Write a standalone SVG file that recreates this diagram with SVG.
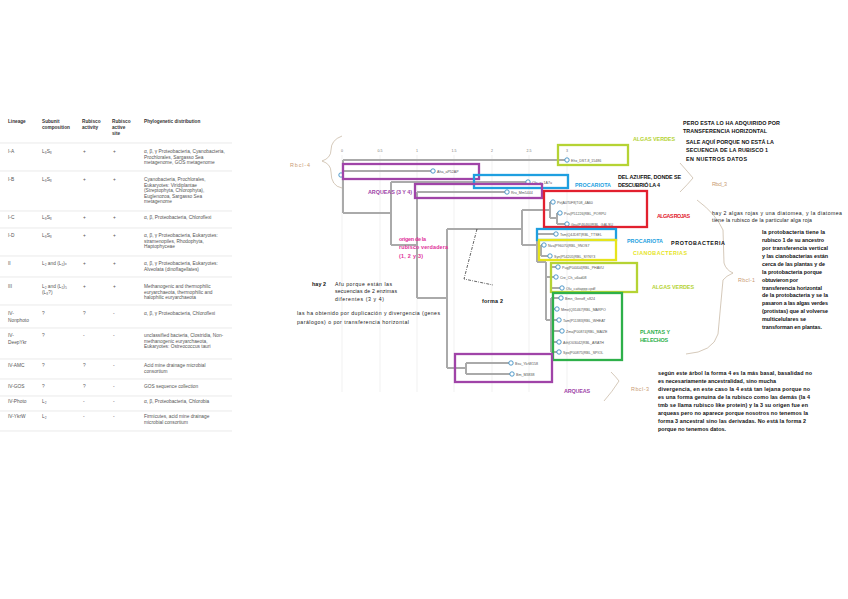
<svg xmlns="http://www.w3.org/2000/svg" width="848" height="599" viewBox="0 0 848 599">
<style>
.t{font-family:"Liberation Sans",Arial,sans-serif;font-size:4.8px;fill:#555}
.th{font-family:"Liberation Sans",Arial,sans-serif;font-size:4.7px;fill:#333;font-weight:bold}
.rl{stroke:#dcdcdc;stroke-width:0.6}
.grid{stroke:#eeeeee;stroke-width:0.8}
.ax{font-family:"Liberation Sans",Arial,sans-serif;font-size:3.6px;fill:#777}
.br{fill:none;stroke:#aaaaaa;stroke-width:2}
.leaf circle{fill:#fff;stroke:#3d8fc4;stroke-width:0.9}
.leaf text{font-family:"Liberation Sans",Arial,sans-serif;font-size:3.6px;fill:#555}
.box{fill:none;stroke-width:2.3}
.a{font-family:"Liberation Sans",Arial,sans-serif;font-size:5.4px;fill:#111;font-weight:bold}
.an{font-family:"Liberation Sans",Arial,sans-serif;font-size:5.2px;fill:#222}
.lab{font-family:"Liberation Sans",Arial,sans-serif;font-size:5.4px;font-weight:bold}
.rb{font-family:"Liberation Sans",Arial,sans-serif;font-size:5.4px;fill:#c99a72}
.brace{fill:none;stroke:#b8a48c;stroke-width:0.6}
</style>
<rect width="848" height="599" fill="#fff"/>

<!-- Table -->
<g id="table">
<text class="th" x="8" y="123">Lineage</text>
<text class="th" x="42" y="123">Subunit</text><text class="th" x="42" y="129">composition</text>
<text class="th" x="82" y="123">Rubisco</text><text class="th" x="82" y="129">activity</text>
<text class="th" x="112" y="123">Rubisco</text><text class="th" x="112" y="129">active</text><text class="th" x="112" y="135">site</text>
<text class="th" x="144" y="123">Phylogenetic distribution</text>
<line class="rl" x1="0" y1="143" x2="232" y2="143"/>

<text class="t" x="8" y="153">I-A</text><text class="t" x="42" y="153">L₈S₈</text><text class="t" x="83" y="153">+</text><text class="t" x="113" y="153">+</text>
<text class="t" x="144" y="153">α, β, γ Proteobacteria, Cyanobacteria,</text><text class="t" x="144" y="158.5">Prochlorales, Sargasso Sea</text><text class="t" x="144" y="164">metagenome, GOS metagenome</text>
<line class="rl" x1="0" y1="171" x2="232" y2="171"/>

<text class="t" x="8" y="181">I-B</text><text class="t" x="42" y="181">L₈S₈</text><text class="t" x="83" y="181">+</text><text class="t" x="113" y="181">+</text>
<text class="t" x="144" y="181">Cyanobacteria, Prochlorales,</text><text class="t" x="144" y="186.5">Eukaryotes: Viridiplantae</text><text class="t" x="144" y="192">(Streptophyta, Chlorophyta),</text><text class="t" x="144" y="197.5">Euglenozoa, Sargasso Sea</text><text class="t" x="144" y="203">metagenome</text>
<line class="rl" x1="0" y1="211" x2="232" y2="211"/>

<text class="t" x="8" y="219">I-C</text><text class="t" x="42" y="219">L₈S₈</text><text class="t" x="83" y="219">+</text><text class="t" x="113" y="219">+</text>
<text class="t" x="144" y="219">α, β, Proteobacteria, Chloroflexi</text>
<line class="rl" x1="0" y1="228" x2="232" y2="228"/>

<text class="t" x="8" y="237">I-D</text><text class="t" x="42" y="237">L₈S₈</text><text class="t" x="83" y="237">+</text><text class="t" x="113" y="237">+</text>
<text class="t" x="144" y="237">α, β, γ Proteobacteria, Eukaryotes:</text><text class="t" x="144" y="242.5">stramenopiles, Rhodophyta,</text><text class="t" x="144" y="248">Haptophyceae</text>
<line class="rl" x1="0" y1="256" x2="232" y2="256"/>

<text class="t" x="8" y="265">II</text><text class="t" x="42" y="265">L₂ and (L₂)ₓ</text><text class="t" x="83" y="265">+</text><text class="t" x="113" y="265">+</text>
<text class="t" x="144" y="265">α, β, γ Proteobacteria, Eukaryotes:</text><text class="t" x="144" y="270.5">Alveolata (dinoflagellates)</text>
<line class="rl" x1="0" y1="277" x2="232" y2="277"/>

<text class="t" x="8" y="288">III</text><text class="t" x="42" y="288">L₂ and (L₂)₅</text><text class="t" x="42" y="293.5">(L₈?)</text><text class="t" x="83" y="288">+</text><text class="t" x="113" y="288">+</text>
<text class="t" x="144" y="288">Methanogenic and thermophilic</text><text class="t" x="144" y="293.5">euryarchaeota, thermophilic and</text><text class="t" x="144" y="299">halophilic euryarchaeota</text>
<line class="rl" x1="0" y1="305" x2="232" y2="305"/>

<text class="t" x="8" y="315">IV-</text><text class="t" x="8" y="322">Nonphoto</text><text class="t" x="42" y="315">?</text><text class="t" x="83" y="315">?</text><text class="t" x="113" y="315">-</text>
<text class="t" x="144" y="315">α, β, γ Proteobacteria, Chloroflexi</text>
<line class="rl" x1="0" y1="328" x2="232" y2="328"/>

<text class="t" x="8" y="337">IV-</text><text class="t" x="8" y="344">DeepYkr</text><text class="t" x="42" y="337">?</text><text class="t" x="83" y="337">-</text><text class="t" x="113" y="337">-</text>
<text class="t" x="144" y="337">unclassified bacteria, Clostridia, Non-</text><text class="t" x="144" y="342.5">methanogenic euryarchaeota,</text><text class="t" x="144" y="348">Eukaryotes: Ostreococcus tauri</text>
<line class="rl" x1="0" y1="359" x2="232" y2="359"/>

<text class="t" x="8" y="367">IV-AMC</text><text class="t" x="42" y="367">?</text><text class="t" x="83" y="367">?</text><text class="t" x="113" y="367">-</text>
<text class="t" x="144" y="367">Acid mine drainage microbial</text><text class="t" x="144" y="372.5">consortium</text>
<line class="rl" x1="0" y1="379" x2="232" y2="379"/>

<text class="t" x="8" y="388">IV-GOS</text><text class="t" x="42" y="388">?</text><text class="t" x="83" y="388">?</text><text class="t" x="113" y="388">-</text>
<text class="t" x="144" y="388">GOS sequence collection</text>
<line class="rl" x1="0" y1="396" x2="232" y2="396"/>

<text class="t" x="8" y="403">IV-Photo</text><text class="t" x="42" y="403">L₂</text><text class="t" x="83" y="403">-</text><text class="t" x="113" y="403">-</text>
<text class="t" x="144" y="403">α, β, Proteobacteria, Chlorobia</text>
<line class="rl" x1="0" y1="411" x2="232" y2="411"/>

<text class="t" x="8" y="418">IV-YkrW</text><text class="t" x="42" y="418">L₂</text><text class="t" x="83" y="418">-</text><text class="t" x="113" y="418">-</text>
<text class="t" x="144" y="418">Firmicutes, acid mine drainage</text><text class="t" x="144" y="423.5">microbial consortium</text>
<line class="rl" x1="0" y1="431" x2="232" y2="431"/>
</g>

<!-- grid and axis -->
<g id="axis">
<line class="grid" x1="342" y1="155" x2="342" y2="392"/>
<line class="grid" x1="380" y1="155" x2="380" y2="392"/>
<line class="grid" x1="417" y1="155" x2="417" y2="392"/>
<line class="grid" x1="454" y1="155" x2="454" y2="392"/>
<line class="grid" x1="492" y1="155" x2="492" y2="392"/>
<line class="grid" x1="529" y1="155" x2="529" y2="392"/>
<line class="grid" x1="567" y1="155" x2="567" y2="392"/>
<text class="ax" x="342" y="152" text-anchor="middle">0</text>
<text class="ax" x="380" y="152" text-anchor="middle">0.5</text>
<text class="ax" x="417" y="152" text-anchor="middle">1</text>
<text class="ax" x="454" y="152" text-anchor="middle">1.5</text>
<text class="ax" x="492" y="152" text-anchor="middle">2</text>
<text class="ax" x="529" y="152" text-anchor="middle">2.5</text>
<text class="ax" x="567" y="152" text-anchor="middle">3</text>
</g>

<!-- connectors: tree branches -->
<g id="connectors">
<path class="br" d="M343,160 H567 M343,160 V213 M343,171 H433 M343,213 H391 M391,182 V245 M391,182 H528 M391,245 H417 M417,192 V298 M417,192 H507 M417,298 H447 M447,229 V368 M447,229 H522 M447,368 H466 M466,363 V374 M466,363 H511 M466,374 H512"/>
<path class="br" d="M522,210 V245 M522,210 H550 M550,202 V218 M550,202 H553 M550,218 H557 M557,213 V224 M557,213 H560 M557,224 H567"/>
<path class="br" d="M522,245 H537 M537,234 V262 M537,234 H556 M537,250 H541 M541,245 V256 M541,245 H544 M541,256 H550 M537,262 H546 M546,262 V320 M546,277 H551 M551,267 V288 M551,267 H558 M551,277 H556 M551,288 H562 M546,320 H551 M551,298 V352 M551,298 H561 M551,309 H557 M551,320 H559 M551,331 H562 M551,342 H559 M551,352 H559"/>
<path d="M477,229 L464,279 L493,285" fill="none" stroke="#222" stroke-width="0.7" stroke-dasharray="3,1.2,0.8,1.2"/>
</g>

<!-- leaves -->
<g id="root" class="leaf"><circle cx="341" cy="175" r="2.2"/></g>
<g id="n-ehx" class="leaf"><circle cx="567" cy="160" r="2.2"/><text x="571" y="161.5">Ehx_DST-8_15486</text></g>
<g id="n-aha" class="leaf"><circle cx="433" cy="171" r="2.2"/><text x="437" y="172.5">Aha_aP52AP</text></g>
<g id="n-cfa" class="leaf"><circle cx="528" cy="182" r="2.2"/><text x="532" y="183.5">Cfa_a_1A7u</text></g>
<g id="n-rru" class="leaf"><circle cx="507" cy="192" r="2.2"/><text x="511" y="193.5">Rru_Mm5444</text></g>
<g id="n-ptr" class="leaf"><circle cx="553" cy="202" r="2.2"/><text x="557" y="203.5">Ptr|A0T0F8|T08_4A60</text></g>
<g id="n-pvu" class="leaf"><circle cx="560" cy="213" r="2.2"/><text x="564" y="214.5">Pvu|P51226|RBL_PORPU</text></g>
<g id="n-gsu" class="leaf"><circle cx="567" cy="224" r="2.2"/><text x="571" y="225.5">Gsu|P46460|RBL_GALSU</text></g>
<g id="n-tsm" class="leaf"><circle cx="556" cy="234" r="2.2"/><text x="560" y="235.5">Tsm|Q4JD8T|RBL_TTSEL</text></g>
<g id="n-nsa" class="leaf"><circle cx="544" cy="245" r="2.2"/><text x="548" y="246.5">Nva|P96070|RBL_9NOS7</text></g>
<g id="n-syn" class="leaf"><circle cx="550" cy="256" r="2.2"/><text x="554" y="257.5">Syn|P54205|RBL_SYNY3</text></g>
<g id="n-pug" class="leaf"><circle cx="558" cy="267" r="2.2"/><text x="562" y="268.5">Pug|P04404|RBL_PHAVU</text></g>
<g id="n-cre" class="leaf"><circle cx="556" cy="277" r="2.2"/><text x="560" y="278.5">Cre_Ch_u6ad08</text></g>
<g id="n-olu" class="leaf"><circle cx="562" cy="288" r="2.2"/><text x="566" y="289.5">Olu_cattappp.cpdf</text></g>
<g id="n-bmn" class="leaf"><circle cx="561" cy="298" r="2.2"/><text x="565" y="299.5">Bmn_Genoff_s824</text></g>
<g id="n-mme" class="leaf"><circle cx="557" cy="309" r="2.2"/><text x="561" y="310.5">Mme|Q31467|RBL_MARPO</text></g>
<g id="n-tam" class="leaf"><circle cx="559" cy="320" r="2.2"/><text x="563" y="321.5">Tam|P11383|RBL_WHEAT</text></g>
<g id="n-zma" class="leaf"><circle cx="562" cy="331" r="2.2"/><text x="566" y="332.5">Zma|P00874|RBL_MAIZE</text></g>
<g id="n-ath" class="leaf"><circle cx="559" cy="342" r="2.2"/><text x="563" y="343.5">Ath|O03042|RBL_ARATH</text></g>
<g id="n-spo" class="leaf"><circle cx="559" cy="352" r="2.2"/><text x="563" y="353.5">Spo|P00875|RBL_SPIOL</text></g>
<g id="n-bsu" class="leaf"><circle cx="511" cy="363" r="2.2"/><text x="515" y="364.5">Bsu_YkrW158</text></g>
<g id="n-bm" class="leaf"><circle cx="512" cy="374" r="2.2"/><text x="516" y="375.5">Bm_M3838</text></g>

<!-- highlight boxes -->
<g id="boxes">
<rect class="box" x="558" y="145" width="70" height="20" stroke="#b5d334"/>
<rect class="box" x="343" y="164" width="136" height="15" stroke="#a044a8"/>
<rect class="box" x="474" y="175" width="94" height="13" stroke="#1e9fe0"/>
<rect class="box" x="415" y="184" width="127" height="14" stroke="#a044a8"/>
<rect class="box" x="544" y="191" width="103" height="36" stroke="#e2202e"/>
<rect class="box" x="537" y="229" width="79" height="11" stroke="#1e9fe0"/>
<rect class="box" x="539" y="240" width="77" height="20" stroke="#e6e41c"/>
<rect class="box" x="551" y="263" width="86" height="29" stroke="#b5d334"/>
<rect class="box" x="553" y="293" width="69" height="67" stroke="#2eb04a"/>
<rect class="box" x="455" y="354" width="97" height="28" stroke="#a044a8"/>
</g>

<!-- braces -->
<g id="braces">
<path class="brace" d="M342,136 Q331,140 331,150 Q331,158 322,161 Q331,164 331,172 Q331,186 342,188"/>
<path class="brace" d="M680,163 Q688,172 693,178 Q688,184 680,192"/>
<path class="brace" d="M697,200 Q716,214 723,230 L724,263 Q726,270 733,273 Q726,276 723,280 L718,334 Q713,352 686,354"/>
<path class="brace" d="M611,372 Q616,377 619,381 Q612,392 604,401"/>
</g>

<!-- labels -->
<g id="labels">
<text class="rb" x="290" y="167" textLength="20">Rbcl-4</text>
<text class="lab" x="368" y="194" fill="#a044a8" textLength="44">ARQUEAS (3 Y 4)</text>
<text class="lab" x="633" y="141" fill="#b5d334" textLength="42">ALGAS VERDES</text>
<text class="lab" x="575" y="187" fill="#1e9fe0" textLength="36">PROCARIOTA</text>
<text class="a" x="618" y="179" textLength="63">DEL AZUFRE, DONDE SE</text>
<text class="a" x="618" y="187" textLength="42">DESCUBRIÓ LA 4</text>
<text class="rb" x="712" y="186" textLength="15">Rbcl_3</text>
<text class="a" x="683" y="125" textLength="97">PERO ESTA LO HA ADQUIRIDO POR</text>
<text class="a" x="683" y="133" textLength="84">TRANSFERENCIA HORIZONTAL</text>
<text class="a" x="686" y="144" textLength="88">SALE AQUÍ PORQUE NO ESTÁ LA</text>
<text class="a" x="686" y="152" textLength="82">SECUENCIA DE LA RUBISCO 1</text>
<text class="a" x="686" y="161" textLength="61">EN NUETROS DATOS</text>
<text class="lab" x="657" y="218" fill="#e2202e" textLength="33">ALGAS ROJAS</text>
<text class="an" x="712" y="215" textLength="130">hay 2 algas rojas y una diatomea, y la diatomea</text>
<text class="an" x="712" y="222" textLength="100">tiene la rubisco de la particular alga roja</text>
<text class="lab" x="627" y="243" fill="#1e9fe0" textLength="36">PROCARIOTA</text>
<text class="a" x="671" y="245" textLength="54">PROTOBACTERIA</text>
<text class="lab" x="633" y="255" fill="#e6e41c" textLength="54">CIANOBACTERIAS</text>
<text class="lab" x="652" y="289" fill="#b5d334" textLength="42">ALGAS VERDES</text>
<text class="lab" x="640" y="334" fill="#2eb04a" textLength="30">PLANTAS Y</text>
<text class="lab" x="640" y="342" fill="#2eb04a" textLength="28">HELECHOS</text>
<text class="rb" x="738" y="282" textLength="17">Rbcl-1</text>
<g class="a">
<text x="762" y="234" textLength="63">la protobacteria tiene la</text>
<text x="762" y="242" textLength="62">rubisco 1 de su ancestro</text>
<text x="762" y="250" textLength="66">por transferencia vertical</text>
<text x="762" y="258" textLength="66">y las cianobacterias están</text>
<text x="762" y="266" textLength="63">cerca de las plantas y de</text>
<text x="762" y="274" textLength="60">la protobacteria porque</text>
<text x="762" y="282" textLength="36">obtuvieron por</text>
<text x="762" y="290" textLength="60">transferencia horizontal</text>
<text x="762" y="297" textLength="66">de la protobacteria y se la</text>
<text x="762" y="305" textLength="66">pasaron a las algas verdes</text>
<text x="762" y="313" textLength="66">(protistas) que al volverse</text>
<text x="762" y="321" textLength="44">multicelulares se</text>
<text x="762" y="329" textLength="60">transforman en plantas.</text>
</g>
<text class="lab" x="399" y="241" fill="#e0309a" font-weight="normal" textLength="27">origen de la</text>
<text class="lab" x="399" y="249" fill="#e0309a" font-weight="normal" textLength="49">rubisco verdadera</text>
<text class="lab" x="399" y="258" fill="#e0309a" font-weight="normal" textLength="24">(1, 2 y 3)</text>
<text class="a" x="312" y="286" textLength="14">hay 2</text>
<text class="an" x="335" y="286" textLength="57">Afu porque están las</text>
<text class="an" x="335" y="293" textLength="62">secuencias de 2 enzimas</text>
<text class="an" x="335" y="301" textLength="49">diferentes (3 y 4)</text>
<text class="an" x="297" y="315" textLength="143">las ha obtenido por duplicación y divergencia (genes</text>
<text class="an" x="297" y="324" textLength="112">parálogos) o por transferencia horizontal</text>
<text class="a" x="482" y="303" textLength="21">forma 2</text>
<text class="lab" x="564" y="393" fill="#a044a8" textLength="26">ARQUEAS</text>
<text class="rb" x="631" y="391" textLength="18">Rbcl-3</text>
<g class="a">
<text x="658" y="375" textLength="154">según este árbol la forma 4 es la más basal, basalidad no</text>
<text x="658" y="383" textLength="118">es necesariamente ancestralidad, sino mucha</text>
<text x="658" y="391" textLength="152">divergencia, en este caso la 4 está tan lejana porque no</text>
<text x="658" y="399" textLength="152">es una forma genuina de la rubisco como las demás (la 4</text>
<text x="658" y="407" textLength="150">tmb se llama rubisco like protein) y la 3 su origen fue en</text>
<text x="658" y="415" textLength="150">arqueas pero no aparece porque nosotros no tenemos la</text>
<text x="658" y="423" textLength="148">forma 3 ancestral sino las derivadas. No está la forma 2</text>
<text x="658" y="431" textLength="68">porque no tenemos datos.</text>
</g>
</g>
</svg>
